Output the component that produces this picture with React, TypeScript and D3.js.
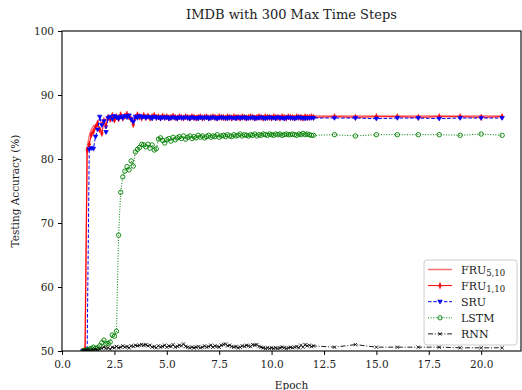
import { useEffect, useRef } from "react"
import * as d3 from "d3"

// epochs at which accuracy was logged: dense (every 0.1) until 12, then once per epoch
const epochs = [
  1.0, 1.1, 1.2, 1.3, 1.4, 1.5, 1.6, 1.7, 1.8, 1.9,
  2.0, 2.1, 2.2, 2.3, 2.4, 2.5, 2.6, 2.7, 2.8, 2.9,
  3.0, 3.1, 3.2, 3.3, 3.4, 3.5, 3.6, 3.7, 3.8, 3.9,
  4.0, 4.1, 4.2, 4.3, 4.4, 4.5, 4.6, 4.7, 4.8, 4.9,
  5.0, 5.1, 5.2, 5.3, 5.4, 5.5, 5.6, 5.7, 5.8, 5.9,
  6.0, 6.1, 6.2, 6.3, 6.4, 6.5, 6.6, 6.7, 6.8, 6.9,
  7.0, 7.1, 7.2, 7.3, 7.4, 7.5, 7.6, 7.7, 7.8, 7.9,
  8.0, 8.1, 8.2, 8.3, 8.4, 8.5, 8.6, 8.7, 8.8, 8.9,
  9.0, 9.1, 9.2, 9.3, 9.4, 9.5, 9.6, 9.7, 9.8, 9.9,
  10.0, 10.1, 10.2, 10.3, 10.4, 10.5, 10.6, 10.7, 10.8, 10.9,
  11.0, 11.1, 11.2, 11.3, 11.4, 11.5, 11.6, 11.7, 11.8, 11.9,
  12.0,
  13, 14, 15, 16, 17, 18, 19, 20, 21,
]

const fru510 = [
  50.0, 50.0, 81.8, 83.6, 84.6, 85.2, 84.8, 85.9, 86.2, 85.4,
  86.4, 86.0, 86.6, 86.3, 86.7, 86.4, 86.5, 86.8, 86.3, 86.6,
  86.9, 86.5, 86.7, 86.4, 86.0, 86.8, 86.6, 86.7, 86.5, 86.8,
  86.6, 86.7, 86.8, 86.6, 86.7, 86.5, 86.8, 86.7, 86.6, 86.7,
  86.7, 86.8, 86.6, 86.7, 86.7, 86.6, 86.8, 86.7, 86.7, 86.6,
  86.7, 86.7, 86.8, 86.6, 86.7, 86.7, 86.7, 86.6, 86.7, 86.8,
  86.7, 86.6, 86.7, 86.7, 86.7, 86.8, 86.7, 86.6, 86.7, 86.7,
  86.7, 86.7, 86.6, 86.7, 86.7, 86.7, 86.7, 86.8, 86.7, 86.7,
  86.6, 86.7, 86.7, 86.7, 86.7, 86.7, 86.6, 86.7, 86.7, 86.7,
  86.7, 86.7, 86.7, 86.6, 86.7, 86.7, 86.7, 86.7, 86.7, 86.7,
  86.7, 86.6, 86.7, 86.7, 86.7, 86.7, 86.7, 86.7, 86.6, 86.7,
  86.7,
  86.7, 86.7, 86.7, 86.7, 86.7, 86.7, 86.7, 86.7, 86.7,
]

const fru110 = [
  50.0, 50.2, 81.4, 82.3, 83.8, 84.3, 85.0, 85.5, 84.6, 84.0,
  85.8, 85.2, 86.5, 86.2, 86.8, 86.1, 86.6, 86.3, 86.9, 86.4,
  86.7, 87.0, 86.6, 86.2, 85.4, 86.5, 86.9, 86.6, 86.4, 86.8,
  86.5, 86.7, 86.4, 86.6, 86.8, 86.5, 86.6, 86.4, 86.7, 86.5,
  86.6, 86.4, 86.5, 86.7, 86.5, 86.4, 86.6, 86.5, 86.4, 86.6,
  86.5, 86.4, 86.6, 86.5, 86.4, 86.5, 86.6, 86.4, 86.5, 86.6,
  86.4, 86.5, 86.6, 86.5, 86.4, 86.6, 86.5, 86.5, 86.4, 86.6,
  86.5, 86.4, 86.6, 86.5, 86.5, 86.4, 86.6, 86.5, 86.4, 86.5,
  86.6, 86.5, 86.4, 86.5, 86.6, 86.5, 86.4, 86.6, 86.5, 86.5,
  86.4, 86.6, 86.5, 86.5, 86.4, 86.6, 86.5, 86.4, 86.6, 86.5,
  86.5, 86.4, 86.6, 86.5, 86.5, 86.4, 86.6, 86.5, 86.5, 86.6,
  86.5,
  86.6, 86.5, 86.6, 86.6, 86.5, 86.6, 86.6, 86.5, 86.6,
]

const sru = [
  50.0, 50.0, 50.1, 81.5, 81.7, 81.6, 83.5, 84.6, 86.6, 85.3,
  85.9, 84.2, 86.4, 86.6, 86.2, 86.7, 86.5, 86.3, 86.6, 86.4,
  86.7, 86.5, 86.8, 86.2, 85.8, 86.6, 86.4, 86.7, 86.5, 86.6,
  86.4, 86.6, 86.5, 86.3, 86.6, 86.4, 86.5, 86.3, 86.5, 86.4,
  86.5, 86.3, 86.4, 86.5, 86.4, 86.3, 86.5, 86.4, 86.4, 86.5,
  86.4, 86.3, 86.5, 86.4, 86.4, 86.3, 86.5, 86.4, 86.4, 86.5,
  86.3, 86.4, 86.5, 86.4, 86.3, 86.4, 86.5, 86.4, 86.4, 86.3,
  86.5, 86.4, 86.4, 86.3, 86.5, 86.4, 86.4, 86.5, 86.3, 86.4,
  86.4, 86.5, 86.3, 86.4, 86.4, 86.5, 86.4, 86.3, 86.4, 86.5,
  86.4, 86.4, 86.3, 86.5, 86.4, 86.4, 86.3, 86.4, 86.5, 86.4,
  86.4, 86.3, 86.4, 86.5, 86.4, 86.4, 86.3, 86.4, 86.4, 86.4,
  86.4,
  86.4, 86.4, 86.3, 86.4, 86.4, 86.3, 86.4, 86.4, 86.4,
]

const lstm = [
  50.0, 50.1, 50.2, 50.3, 50.4, 50.6, 50.4, 50.5, 50.8, 51.3,
  51.7, 51.1, 51.2, 51.4, 52.5, 52.3, 53.1, 68.1, 74.8, 77.2,
  78.1, 78.8, 78.3, 79.7, 78.9, 81.1, 81.5, 81.8, 82.3, 82.2,
  81.9, 82.3, 81.7, 82.2, 81.4, 81.6, 83.1, 83.3, 82.9, 82.5,
  83.0, 83.2, 82.8, 83.4, 83.0, 83.3, 83.5, 83.2, 83.6, 83.1,
  83.4, 83.6, 83.2, 83.5, 83.3, 83.7, 83.4, 83.6, 83.3, 83.5,
  83.7, 83.4, 83.6, 83.5, 83.8, 83.4, 83.6, 83.7, 83.5, 83.8,
  83.6, 83.5, 83.8, 83.6, 83.7, 83.9, 83.6, 83.8, 83.7, 83.6,
  83.8, 83.7, 83.9, 83.6, 83.8, 83.7, 83.9, 83.8, 83.7, 83.9,
  83.8, 83.7, 83.9, 83.8, 83.9, 83.7, 83.8, 83.9, 83.8, 83.8,
  83.9, 83.8, 83.7, 83.9, 83.8, 84.0, 83.8, 83.9, 83.8, 83.7,
  83.7,
  83.8, 83.6, 83.8, 83.8, 83.8, 83.8, 83.7, 83.9, 83.7,
]

const rnn = [
  50.1, 50.1, 50.2, 50.1, 50.2, 50.2, 50.3, 50.2, 50.3, 50.4,
  50.6, 50.4, 50.5, 50.3, 50.6, 50.5, 50.7, 50.5, 50.6, 50.8,
  50.6, 50.7, 50.5, 50.8, 50.7, 50.9, 50.8, 50.9, 51.0, 50.9,
  51.0, 50.8, 50.9, 50.6, 50.7, 50.5, 50.8, 50.6, 50.7, 50.9,
  50.6, 50.8, 50.7, 51.0, 50.6, 50.7, 50.9, 50.8, 51.1, 50.7,
  50.6, 50.5, 50.6, 50.5, 50.6, 50.7, 50.5, 50.6, 50.8, 50.6,
  50.7, 50.9, 50.6, 50.8, 50.7, 50.6, 50.9, 51.0, 51.1, 50.8,
  50.9, 50.7, 50.6, 50.7, 50.5, 50.6, 50.8, 50.7, 50.9, 50.8,
  50.7, 51.0, 50.9, 51.0, 50.7, 50.6, 50.5, 50.4, 50.5, 50.4,
  50.5, 50.4, 50.5, 50.4, 50.5, 50.6, 50.5, 50.4, 50.5, 50.6,
  50.5, 50.6, 50.7, 50.5, 50.9, 50.6, 51.0, 50.8, 50.9, 50.7,
  50.8,
  50.6, 51.0, 50.6, 50.6, 50.6, 50.6, 50.5, 50.5, 50.5,
]

const xTicks = [0, 2.5, 5, 7.5, 10, 12.5, 15, 17.5, 20]
const yTicks = [50, 60, 70, 80, 90, 100]

type Marker = "none" | "diamond" | "tri" | "circle" | "x"

const seriesList: {
  name: string
  sub: string
  values: number[]
  color: string
  opacity: number
  width: number
  dash: string
  marker: Marker
}[] = [
  { name: "FRU", sub: "5,10", values: fru510, color: "#ff0000", opacity: 0.55, width: 1.5, dash: "", marker: "none" },
  { name: "FRU", sub: "1,10", values: fru110, color: "#ff0000", opacity: 1, width: 1, dash: "", marker: "diamond" },
  { name: "SRU", sub: "", values: sru, color: "#0000ff", opacity: 1, width: 1, dash: "3.5,1.8", marker: "tri" },
  { name: "LSTM", sub: "", values: lstm, color: "#008000", opacity: 1, width: 1, dash: "1,1.6", marker: "circle" },
  { name: "RNN", sub: "", values: rnn, color: "#000000", opacity: 1, width: 0.9, dash: "5,1.8,1,1.8", marker: "x" },
]

const FONT = "'DejaVu Serif', serif"

function drawMarker(
  sel: d3.Selection<SVGGElement, unknown, null, undefined>,
  pts: [number, number][],
  marker: Marker,
  color: string,
) {
  if (marker === "none") return
  const g = sel.append("g")
  const items = g.selectAll("g").data(pts).enter().append("g")
    .attr("transform", (d) => `translate(${d[0]},${d[1]})`)
  if (marker === "diamond") {
    items.append("path").attr("d", "M0,-3.2L1.3,0L0,3.2L-1.3,0Z")
      .attr("fill", color).attr("stroke", color).attr("stroke-width", 0.5)
  } else if (marker === "tri") {
    items.append("path").attr("d", "M-2.3,-1.6L2.3,-1.6L0,2.3Z")
      .attr("fill", color).attr("stroke", color).attr("stroke-width", 0.6)
  } else if (marker === "circle") {
    items.append("circle").attr("r", 2.2)
      .attr("fill", "none").attr("stroke", color).attr("stroke-width", 0.9)
  } else if (marker === "x") {
    items.append("path").attr("d", "M-1.7,-1.7L1.7,1.7M-1.7,1.7L1.7,-1.7")
      .attr("stroke", color).attr("stroke-width", 0.8)
  }
}

export default function App() {
  const svgRef = useRef<SVGSVGElement>(null)
  const width = 522
  const height = 390

  useEffect(() => {
    if (!svgRef.current) return
    const svg = d3.select(svgRef.current)
    svg.selectAll("*").remove()

    const left = 62
    const right = 521
    const top = 31
    const bottom = 351

    const x = d3.scaleLinear().domain([0, 21.9]).range([left, right])
    const y = d3.scaleLinear().domain([50, 100]).range([bottom, top])

    svg.append("rect").attr("width", width).attr("height", height).attr("fill", "#fff")

    // title
    svg.append("text")
      .attr("x", (left + right) / 2)
      .attr("y", 19)
      .attr("text-anchor", "middle")
      .attr("font-family", FONT)
      .attr("font-size", 13)
      .attr("fill", "#222")
      .text("IMDB with 300 Max Time Steps")

    const clipId = "plot-clip"
    svg.append("clipPath").attr("id", clipId)
      .append("rect").attr("x", left).attr("y", top - 4).attr("width", right - left).attr("height", bottom - top + 4)

    const plot = svg.append("g").attr("clip-path", `url(#${clipId})`)

    const line = d3.line<[number, number]>().x((d) => d[0]).y((d) => d[1])

    seriesList.forEach((s) => {
      const pts: [number, number][] = s.values.map((v, i) => [x(epochs[i]), y(v)])
      const g = plot.append("g").attr("opacity", s.opacity)
      g.append("path")
        .attr("d", line(pts))
        .attr("fill", "none")
        .attr("stroke", s.color)
        .attr("stroke-width", s.width)
        .attr("stroke-dasharray", s.dash || null)
      drawMarker(g, pts, s.marker, s.color)
    })

    // frame
    svg.append("rect")
      .attr("x", left).attr("y", top)
      .attr("width", right - left).attr("height", bottom - top)
      .attr("fill", "none").attr("stroke", "#000").attr("stroke-width", 1.1)

    // axes
    const xAxis = svg.append("g").attr("transform", `translate(0,${bottom})`)
      .call(d3.axisBottom(x).tickValues(xTicks).tickSize(4).tickPadding(6).tickFormat(d3.format(".1f")))
    const yAxis = svg.append("g").attr("transform", `translate(${left},0)`)
      .call(d3.axisLeft(y).tickValues(yTicks).tickSize(4).tickPadding(4).tickFormat(d3.format("d")))

    ;[xAxis, yAxis].forEach((a) => {
      a.select(".domain").remove()
      a.selectAll(".tick line").attr("stroke", "#000").attr("stroke-width", 1)
      a.selectAll("text")
        .attr("font-family", FONT)
        .attr("font-size", 10.5)
        .attr("fill", "#222")
    })

    svg.append("text")
      .attr("x", (left + right) / 2)
      .attr("y", 389)
      .attr("text-anchor", "middle")
      .attr("font-family", FONT)
      .attr("font-size", 10.5)
      .attr("fill", "#222")
      .text("Epoch")

    svg.append("text")
      .attr("transform", `translate(19,${(top + bottom) / 2}) rotate(-90)`)
      .attr("text-anchor", "middle")
      .attr("font-family", FONT)
      .attr("font-size", 10.5)
      .attr("fill", "#222")
      .text("Testing Accuracy (%)")

    // legend
    const lg = svg.append("g").attr("transform", "translate(424,260)")
    lg.append("rect")
      .attr("width", 93).attr("height", 85).attr("rx", 3)
      .attr("fill", "#fff").attr("fill-opacity", 0.85)
      .attr("stroke", "#cccccc").attr("stroke-width", 1)

    seriesList.forEach((s, i) => {
      const cy = 9.5 + i * 16.1
      const row = lg.append("g").attr("opacity", s.opacity)
      row.append("line")
        .attr("x1", 4).attr("x2", 28).attr("y1", cy).attr("y2", cy)
        .attr("stroke", s.color).attr("stroke-width", s.width)
        .attr("stroke-dasharray", s.dash || null)
      drawMarker(row, [[16, cy]], s.marker, s.color)
      const t = lg.append("text")
        .attr("x", 37).attr("y", cy + 4)
        .attr("font-family", FONT)
        .attr("font-size", 11)
        .attr("fill", "#222")
        .text(s.name)
      if (s.sub) {
        t.append("tspan").attr("dy", 2.5).attr("font-size", 8.5).text(s.sub)
      }
    })
  }, [])

  return (
    <div style={{ position: "absolute", left: 0, top: 0 }}>
      <svg ref={svgRef} width={width} height={height} style={{ display: "block" }} />
    </div>
  )
}
